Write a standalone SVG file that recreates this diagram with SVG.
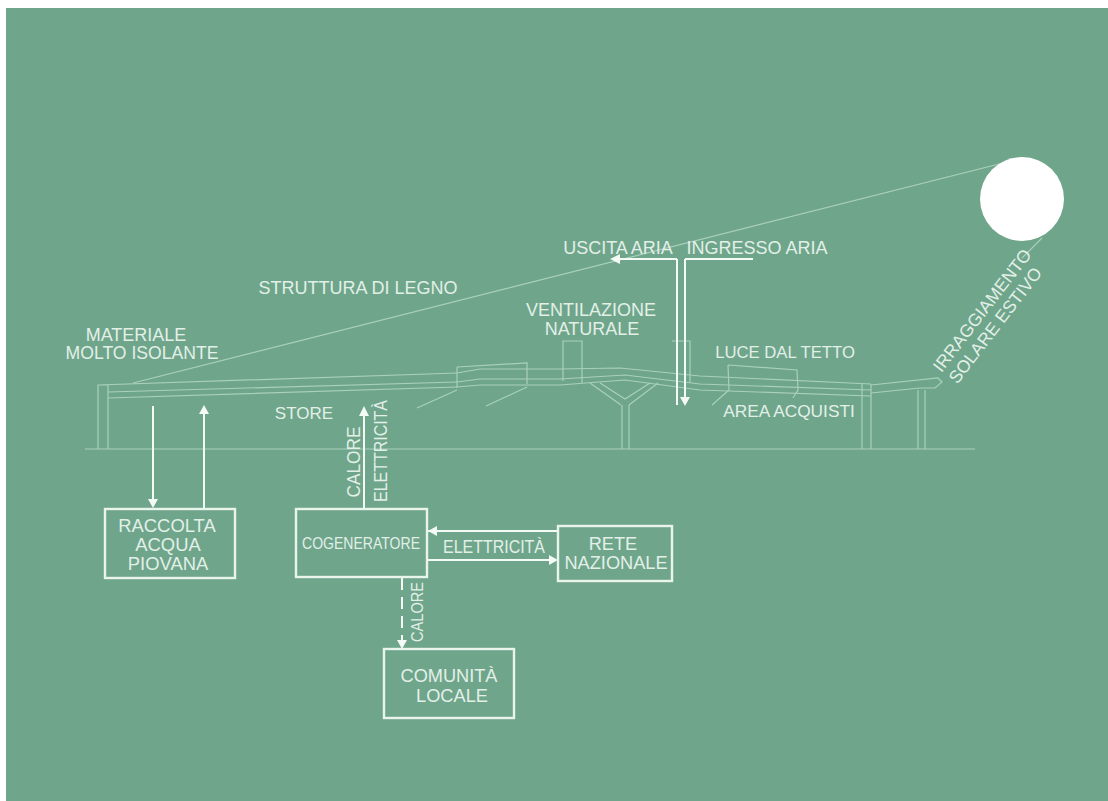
<svg xmlns="http://www.w3.org/2000/svg" width="1108" height="801" viewBox="0 0 1108 801">
<style>
.t{font-family:"Liberation Sans",Arial,sans-serif;font-size:18px;fill:#e2f0e8;text-anchor:middle}
.s{fill:none;stroke:#a9d0bb;stroke-width:1.2}
.a{fill:none;stroke:#f4faf6;stroke-width:2}
.b{fill:none;stroke:#e8f4ec;stroke-width:2.4}
.h{fill:#f4faf6}
</style>
<rect width="1108" height="801" fill="#fff"/>
<rect x="6" y="8" width="1102" height="793" fill="#6fa58b"/>
<g id="connectors">
<path class="s" d="M133 383L1003 163M1022 258L1042 238"/>
<path class="s" d="M85 449H975"/>
<path class="s" d="M98 449V385H108V449M98 385L457 373M108 392L457 382M108 398L457 387"/>
<path class="s" d="M457 373L480 369H560L620 368L700 376L871 384M457 382L480 379H560L625 375L700 384L871 390M457 387L480 385H560L625 380L700 390L871 396"/>
<path class="s" d="M871 385L938 378L942 382L935 388L920 388L871 393"/>
<path class="s" d="M457 367L527 363V384M457 367V388M417 408L457 390M486 406L527 387"/>
<path class="s" d="M563 381V341H582V383"/>
<path class="s" d="M590 383L621 405M600 383L625 399L650 383M658 383L629 405M622 405V449M629 405V449"/>
<path class="s" d="M672 341H690V383"/>
<path class="s" d="M728 365L797 370L798 390L793 398M728 365L729 390L712 405"/>
<path class="s" d="M862 384V449M871 384V449M918 390V449M925 390V449"/>
<path class="a" d="M677 259V405M685 259V398M685 259H753M677 259H618"/>
<path class="h" d="M610 259L620 254V264ZM685 406L680 397H690Z"/>
<path class="a" d="M153 406V500M204 508V412M364 508V414M428 531H558M426 560H552"/>
<path class="h" d="M153 508L148 499H158ZM204 405L199 414H209ZM364 406L359 416H369ZM428 531L437 526V536ZM558 560L549 555V565Z"/>
<path class="a" stroke-dasharray="12 7" d="M402 578V640"/>
<path class="h" d="M402 649L397 640H407Z"/>
</g>
<g id="sun"><circle cx="1022" cy="199" r="42" fill="#fff"/></g>
<g id="raccolta"><rect class="b" x="105" y="509" width="130" height="69"/><text class="t" x="167" y="532" style="font-size:18.4px">RACCOLTA</text><text class="t" x="168" y="551" style="font-size:18.4px">ACQUA</text><text class="t" x="168" y="570" style="font-size:18.4px">PIOVANA</text></g>
<g id="cogeneratore"><rect class="b" x="296" y="509" width="131" height="68"/><text class="t" x="361" y="549" style="font-size:17px" textLength="118" lengthAdjust="spacingAndGlyphs">COGENERATORE</text></g>
<g id="rete"><rect class="b" x="558" y="526" width="114" height="55"/><text class="t" x="613" y="550" style="font-size:18.2px">RETE</text><text class="t" x="616" y="569" style="font-size:18.2px">NAZIONALE</text></g>
<g id="comunita"><rect class="b" x="384" y="649" width="130" height="69"/><text class="t" x="449" y="682" style="font-size:18.2px">COMUNITÀ</text><text class="t" x="452" y="702" style="font-size:18.2px">LOCALE</text></g>
<g id="labels">
<text class="t" x="358" y="294">STRUTTURA DI LEGNO</text>
<text class="t" x="136" y="341">MATERIALE</text>
<text class="t" x="142" y="359" style="font-size:17.6px">MOLTO ISOLANTE</text>
<text class="t" x="618" y="254">USCITA ARIA</text>
<text class="t" x="757" y="254">INGRESSO ARIA</text>
<text class="t" x="591" y="316">VENTILAZIONE</text>
<text class="t" x="592" y="335">NATURALE</text>
<text class="t" x="785" y="358" style="font-size:16.7px">LUCE DAL TETTO</text>
<text class="t" x="789" y="417" style="font-size:17.3px">AREA ACQUISTI</text>
<text class="t" x="304" y="419" style="font-size:17px">STORE</text>
<text class="t" x="494" y="553" textLength="102" lengthAdjust="spacingAndGlyphs">ELETTRICITÀ</text>
<text class="t" transform="translate(360 462) rotate(-90)" style="font-size:18.5px" textLength="71" lengthAdjust="spacingAndGlyphs">CALORE</text>
<text class="t" transform="translate(387 451) rotate(-90)" textLength="102" lengthAdjust="spacingAndGlyphs">ELETTRICITÀ</text>
<text class="t" transform="translate(423 612) rotate(-90)" style="font-size:17px" textLength="60" lengthAdjust="spacingAndGlyphs">CALORE</text>
<text class="t" transform="translate(987 314) rotate(-52.5)" style="font-size:17.6px">IRRAGGIAMENTO</text>
<text class="t" transform="translate(1000 329) rotate(-52.5)" style="font-size:17.6px">SOLARE ESTIVO</text>
</g>
</svg>
